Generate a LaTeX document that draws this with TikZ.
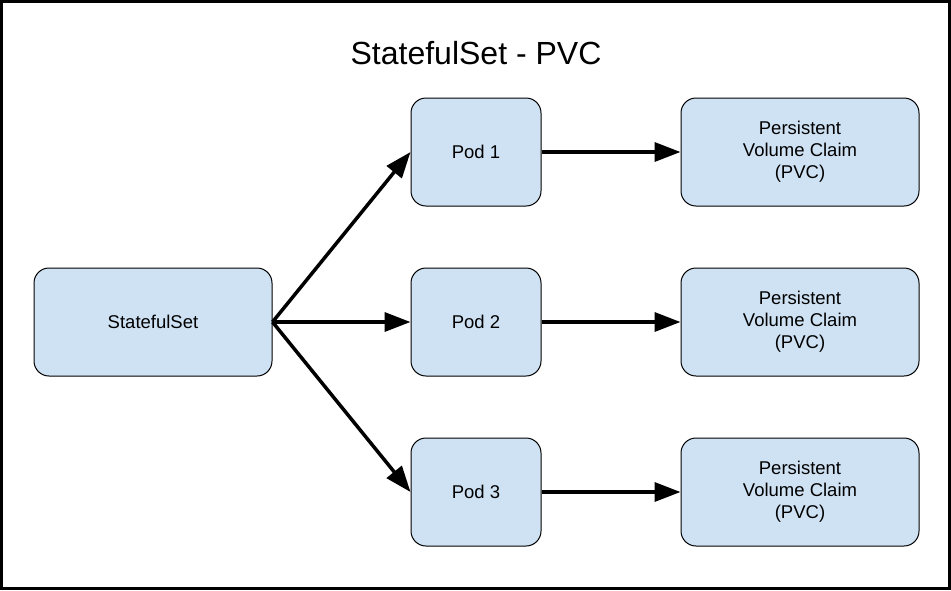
\documentclass[tikz,border=0pt]{standalone}
\usepackage{fontspec}
\setmainfont{Liberation Sans}
\usepackage{xcolor}
\usetikzlibrary{arrows.meta}
\definecolor{boxblue}{RGB}{207,226,243}

\begin{document}
\begin{tikzpicture}[x=1pt, y=-1pt,
  box/.style={draw, line width=1pt, fill=boxblue, rounded corners=15pt, minimum height=108pt, inner sep=0pt, align=center, font=\fontsize{18.5}{22}\selectfont},
  wide/.style={box, minimum width=238pt},
  narrow/.style={box, minimum width=130pt},
  link/.style={line width=3.5pt, -{Triangle[length=26pt, width=19pt]}}]
\useasboundingbox (0,0) rectangle (951,590);
\draw[line width=3pt] (1.5,1.5) rectangle (949.5,588.5);
\node[font=\fontsize{32}{38}\selectfont] (title) at (476,53) {StatefulSet - PVC};
% statefulset and pods
\node[wide] (sts) at (153,322) {StatefulSet};
\node[narrow] (pod1) at (476,152) {Pod 1};
\node[narrow] (pod2) at (476,322) {Pod 2};
\node[narrow] (pod3) at (476,492) {Pod 3};
% claims
\node[wide] (pvc1) at (800,152) {Persistent\\Volume Claim\\(PVC)};
\node[wide] (pvc2) at (800,322) {Persistent\\Volume Claim\\(PVC)};
\node[wide] (pvc3) at (800,492) {Persistent\\Volume Claim\\(PVC)};
\draw[link] (sts.east) -- (pod1.west);
\draw[link] (sts.east) -- (pod2.west);
\draw[link] (sts.east) -- (pod3.west);
\draw[link] (pod1) -- (pvc1); \draw[link] (pod2) -- (pvc2); \draw[link] (pod3) -- (pvc3);
\end{tikzpicture}
\end{document}
